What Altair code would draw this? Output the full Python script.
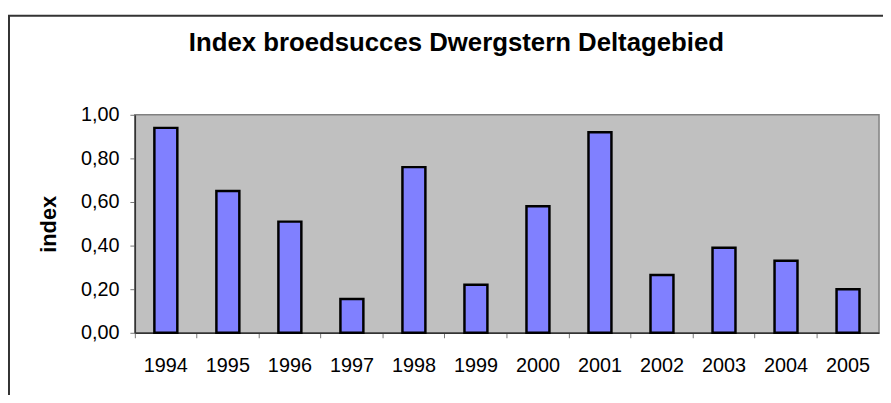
import altair as alt
import pandas as pd

years = ["1994", "1995", "1996", "1997", "1998", "1999",
         "2000", "2001", "2002", "2003", "2004", "2005"]
index_values = [0.94, 0.65, 0.51, 0.155, 0.76, 0.22,
                0.58, 0.92, 0.265, 0.39, 0.33, 0.20]
y_ticks = [0.0, 0.2, 0.4, 0.6, 0.8, 1.0]
title_text = "Index broedsucces Dwergstern Deltagebied"
y_title = "index"

df = pd.DataFrame({"jaar": years, "index": index_values})
frame_df = pd.DataFrame({"k": [0]})

W, H = 751, 220
FONT = "Liberation Sans"

bars = alt.Chart(df).mark_bar(
    fill="#8080FF", stroke="black", strokeWidth=2.5,
    width=alt.RelativeBandSize(0.37),
).encode(
    x=alt.X("jaar:O", sort=years,
            scale=alt.Scale(paddingInner=0, paddingOuter=0),
            axis=alt.Axis(title=None, labelAngle=0, bandPosition=0,
                          labelFontSize=20,
                          labelFont=FONT, labelColor="black",
                          labelPadding=18, tickSize=5, tickColor="#777777",
                          domainColor="#333333", domainWidth=1.5,
                          labelOverlap=False)),
    y=alt.Y("index:Q", scale=alt.Scale(domain=[0, 1]),
            axis=alt.Axis(values=y_ticks, title=y_title,
                          labelExpr="replace(format(datum.value, '.2f'), '.', ',')",
                          labelFontSize=20, labelFont=FONT, labelColor="black",
                          labelPadding=11, tickSize=5, tickColor="#777777",
                          domainColor="#333333", domainWidth=1.5,
                          grid=False, titleFont=FONT, titleFontSize=22,
                          titleFontWeight="bold", titleColor="black",
                          titlePadding=20)),
)

frame = alt.Chart(frame_df).mark_rect(
    filled=False, stroke="#333333", strokeWidth=2, clip=False
).encode(
    x=alt.value(-127), x2=alt.value(W + 200),
    y=alt.value(-100), y2=alt.value(H + 200),
)

chart = alt.layer(frame, bars).properties(
    width=W, height=H,
    title=alt.TitleParams(title_text, font=FONT, fontSize=26,
                          fontWeight="bold", color="black",
                          anchor="middle", frame="group", dx=-51,
                          baseline="alphabetic", offset=0, dy=63),
    autosize=alt.AutoSizeParams(type="none"),
    padding={"left": 128, "top": 106, "right": 4, "bottom": 61},
    background="white",
).configure_view(
    fill="#C0C0C0", stroke="#808080", strokeWidth=1.5
)

chart.save("out.html", embed_options={"renderer": "svg", "actions": False})
